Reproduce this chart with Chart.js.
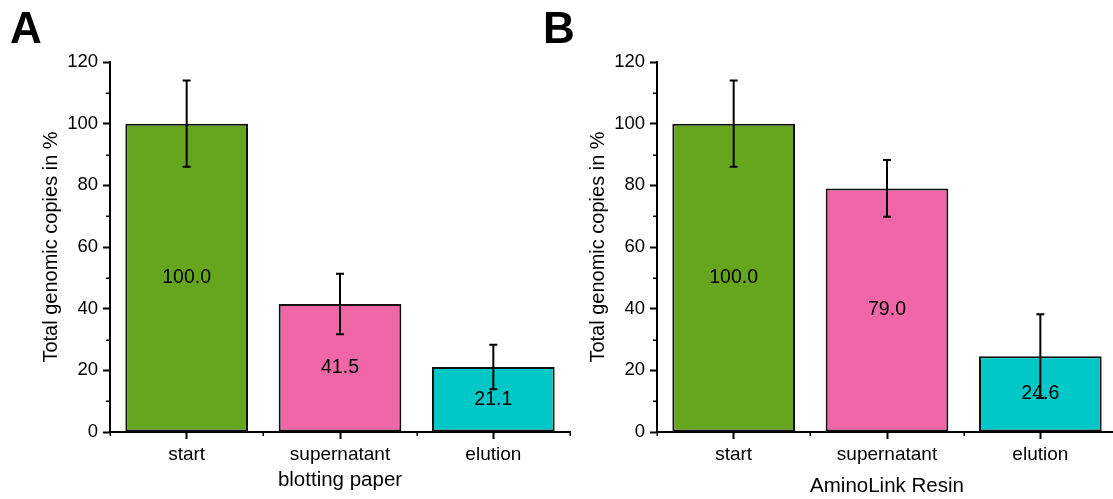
<!DOCTYPE html>
<html>
<head>
<meta charset="utf-8">
<script src="https://cdn.jsdelivr.net/npm/chart.js@4.4.1/dist/chart.umd.min.js"></script>
<style>
  html, body { margin: 0; padding: 0; background: #fff; overflow: hidden; }
  #wrap { position: relative; width: 1113px; height: 499px; overflow: hidden; }
  canvas { position: absolute; top: 0; }
  #paper { left: 0; }
  #resin { left: 547px; }
  .panel { position: absolute; font: bold 44px "Liberation Sans", Arial, sans-serif; line-height: 1; }
</style>
</head>
<body>
<div id="wrap">
  <canvas id="paper" width="580" height="499"></canvas>
  <canvas id="resin" width="580" height="499"></canvas>
  <div class="panel" style="left:10px; top:6px;">A</div>
  <div class="panel" style="left:543px; top:6px;">B</div>
</div>
<script>
  const categories = ['start', 'supernatant', 'elution'];
  const barColors = ['#66a61e', '#f067a8', '#00c8c8'];

  const paperValues = [100.0, 41.5, 21.1];
  const paperErrors = [14.0, 9.8, 7.2];

  const resinValues = [100.0, 79.0, 24.6];
  const resinErrors = [14.0, 9.2, 13.6];

  const yMax = 120;
  const yStep = 20;

  const FONT = '"Liberation Sans", Arial, sans-serif';

  // error bars with caps, drawn over the bars
  const errorBars = {
    id: 'errorBars',
    afterDatasetsDraw(chart, args, opts) {
      const ctx = chart.ctx;
      const y = chart.scales.y;
      const data = chart.data.datasets[0].data;
      ctx.save();
      ctx.strokeStyle = '#000';
      ctx.lineWidth = 2;
      chart.getDatasetMeta(0).data.forEach((bar, i) => {
        const top = y.getPixelForValue(data[i] + opts.errors[i]);
        const bot = y.getPixelForValue(data[i] - opts.errors[i]);
        ctx.beginPath();
        ctx.moveTo(bar.x, top);
        ctx.lineTo(bar.x, bot);
        ctx.moveTo(bar.x - 4, top);
        ctx.lineTo(bar.x + 4, top);
        ctx.moveTo(bar.x - 4, bot);
        ctx.lineTo(bar.x + 4, bot);
        ctx.stroke();
      });
      ctx.restore();
    }
  };

  // value text in the middle of each bar
  const barValues = {
    id: 'barValues',
    afterDraw(chart) {
      const ctx = chart.ctx;
      const data = chart.data.datasets[0].data;
      ctx.save();
      ctx.fillStyle = '#000';
      ctx.font = '19.5px ' + FONT;
      ctx.textAlign = 'center';
      ctx.textBaseline = 'middle';
      chart.getDatasetMeta(0).data.forEach((bar, i) => {
        ctx.fillText(data[i].toFixed(1), bar.x, (bar.y + bar.base) / 2);
      });
      ctx.restore();
    }
  };

  // minor ticks: odd tens on y, category boundaries on x
  const minorTicks = {
    id: 'minorTicks',
    afterDraw(chart) {
      const ctx = chart.ctx;
      const x = chart.scales.x;
      const y = chart.scales.y;
      ctx.save();
      ctx.strokeStyle = '#000';
      ctx.lineWidth = 1.5;
      ctx.beginPath();
      for (let v = yStep / 2; v < yMax; v += yStep) {
        const py = Math.round(y.getPixelForValue(v)) + 0.25;
        ctx.moveTo(y.right - 4, py);
        ctx.lineTo(y.right, py);
      }
      const half = (x.getPixelForValue(1) - x.getPixelForValue(0)) / 2;
      for (let i = 0; i <= categories.length; i++) {
        const px = Math.round(x.getPixelForValue(i) - half) + 0.25;
        ctx.moveTo(px, x.top);
        ctx.lineTo(px, x.top + 4);
      }
      ctx.stroke();
      ctx.restore();
    }
  };

  function makeChart(id, values, errors, xTitle, titlePad) {
    return new Chart(document.getElementById(id), {
      type: 'bar',
      data: {
        labels: categories,
        datasets: [{
          data: values,
          backgroundColor: barColors,
          borderColor: '#111',
          borderWidth: 2,
          borderSkipped: false,
          barPercentage: 0.8,
          categoryPercentage: 1.0
        }]
      },
      options: {
        responsive: false,
        animation: false,
        events: [],
        layout: { padding: { top: 62, right: 10, bottom: 0, left: 0 } },
        plugins: {
          legend: { display: false },
          tooltip: { enabled: false },
          errorBars: { errors: errors }
        },
        scales: {
          x: {
            afterFit: s => { s.height = 67; },
            grid: { offset: false, drawOnChartArea: false, tickLength: 7, tickColor: '#000', tickWidth: 2 },
            border: { color: '#000', width: 2 },
            ticks: { color: '#000', padding: 4, font: { family: FONT, size: 19 } },
            title: {
              display: true, text: xTitle, color: '#000',
              font: { family: FONT, size: 20.5 },
              padding: { top: 0, bottom: titlePad }
            }
          },
          y: {
            min: 0, max: yMax,
            afterFit: s => { s.width = 110; },
            grid: { drawOnChartArea: false, tickLength: 7, tickColor: '#000', tickWidth: 2 },
            border: { color: '#000', width: 2 },
            ticks: { stepSize: yStep, color: '#000', padding: 5, font: { family: FONT, size: 18.5 } },
            title: {
              display: true, text: 'Total genomic copies in %', color: '#000',
              font: { family: FONT, size: 20 },
              padding: { top: 39, bottom: 0 }
            }
          }
        }
      },
      plugins: [errorBars, barValues, minorTicks]
    });
  }

  makeChart('paper', paperValues, paperErrors, 'blotting paper', 6);
  makeChart('resin', resinValues, resinErrors, 'AminoLink Resin', 0);
</script>
</body>
</html>
